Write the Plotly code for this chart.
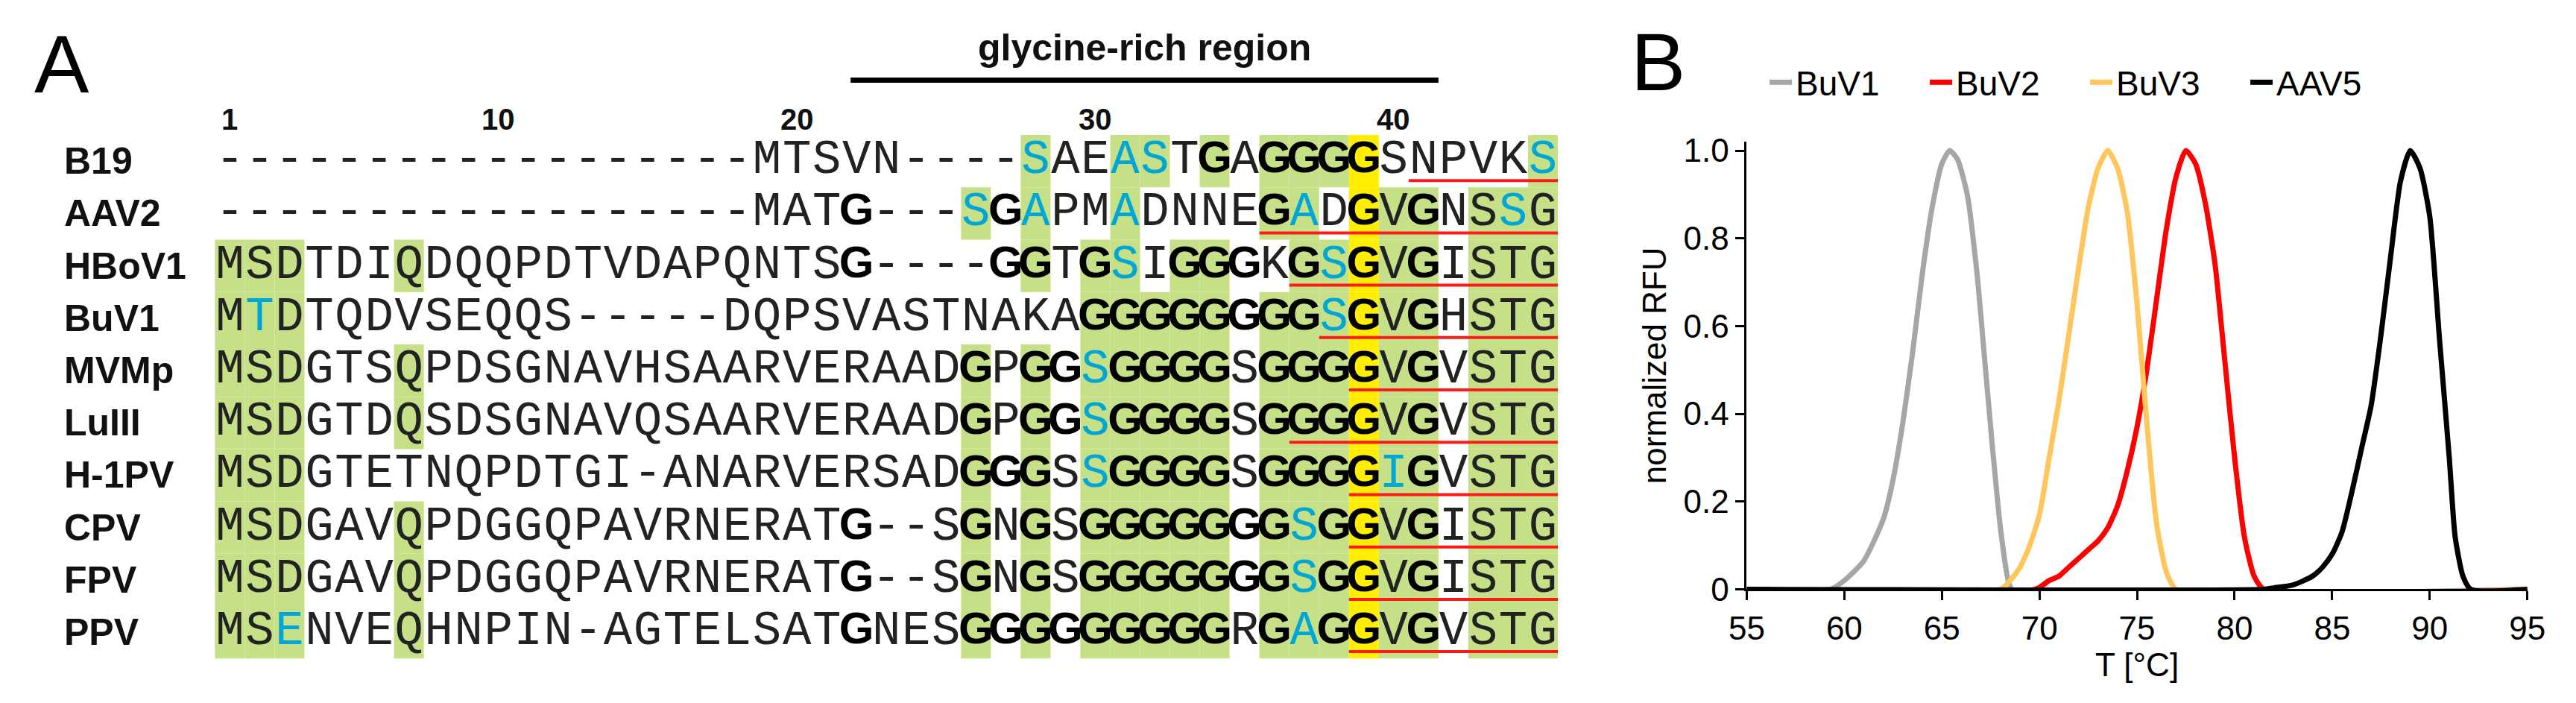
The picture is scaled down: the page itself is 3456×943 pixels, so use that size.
import plotly.graph_objects as go

# ---------------- Panel A data ----------------
names = ["B19", "AAV2", "HBoV1", "BuV1", "MVMp", "LuIII", "H-1PV", "CPV", "FPV", "PPV"]
sequences = [
    "------------------MTSVN----SAEASTGAGGGGSNPVKS",
    "------------------MATG---SGAPMADNNEGADGVGNSSG",
    "MSDTDIQDQQPDTVDAPQNTSG----GGTGSIGGGKGSGVGISTG",
    "MTDTQDVSEQQS-----DQPSVASTNAKAGGGGGGGGSGVGHSTG",
    "MSDGTSQPDSGNAVHSAARVERAADGPGGSGGGGSGGGGVGVSTG",
    "MSDGTDQSDSGNAVQSAARVERAADGPGGSGGGGSGGGGVGVSTG",
    "MSDGTETNQPDTGI-ANARVERSADGGGSSGGGGSGGGGIGVSTG",
    "MSDGAVQPDGGQPAVRNERATG--SGNGSGGGGGGGSGGVGISTG",
    "MSDGAVQPDGGQPAVRNERATG--SGNGSGGGGGGGSGGVGISTG",
    "MSENVEQHNPIN-AGTELSATGNESGGGGGGGGGRGAGGVGVSTG",
]
# g = green box, y = yellow box, . = none
highlights = [
    "..........................." + "g..gg.g.gggy.....g",
    "........................." + "g.g..g....gg.ygg.ggg",
    "ggg...g.................." + "..g.gg.gg..ggygg.ggg",
    "ggg......................" + "....ggggg.gggygg.ggg",
    "ggg...g.................." + "g.g.ggggg.gggygg.ggg",
    "ggg...g.................." + "g.g.ggggg.gggygg.ggg",
    "ggg......................" + "g.g.ggggg.gggygg.ggg",
    "ggg...g.................." + "g.g.ggggg.gggygg.ggg",
    "ggg...g.................." + "g.g.ggggg.gggygg.ggg",
    "ggg...g.................." + "g.g.ggggg.gggygg.ggg",
]
cyan_cells = [(0, 28), (0, 31), (0, 32), (0, 45),
              (1, 26), (1, 28), (1, 31), (1, 37), (1, 44),
              (2, 31), (2, 38), (3, 2), (3, 38), (4, 30), (5, 30),
              (6, 30), (6, 40), (7, 37), (8, 37), (9, 3), (9, 37)]
underline_start = [41, 36, 37, 38, 39, 37, 39, 39, 39, 39]
underline_end = 45
bold_range = (22, 41)
position_labels = [1, 10, 20, 30, 40]
region_label = "glycine-rich region"
region_span = (22.3, 42.0)

# ---------------- Panel B data ----------------
T_buv1 = [55, 59.3, 60, 61, 62, 62.5, 63, 63.5, 64, 64.5, 65, 65.4, 65.8, 66.3, 66.8, 67.2, 67.6, 68, 68.4, 68.6, 95]
R_buv1 = [0, 0, 0.02, 0.065, 0.16, 0.25, 0.38, 0.54, 0.72, 0.87, 0.97, 1.0, 0.98, 0.9, 0.72, 0.52, 0.32, 0.14, 0.02, 0, 0]
T_buv2 = [55, 69.8, 70.5, 71, 71.5, 72, 72.5, 73, 73.5, 74, 74.5, 75, 75.5, 76, 76.5, 77, 77.5, 78, 78.5, 79, 79.5, 80, 80.5, 81, 81.5, 95]
R_buv2 = [0, 0, 0.02, 0.03, 0.05, 0.07, 0.09, 0.11, 0.14, 0.19, 0.27, 0.37, 0.5, 0.66, 0.82, 0.94, 1.0, 0.97, 0.88, 0.74, 0.52, 0.3, 0.12, 0.03, 0, 0]
T_buv3 = [55, 68, 68.5, 69, 69.5, 70, 70.5, 71, 71.5, 72, 72.5, 73, 73.5, 74, 74.5, 75, 75.5, 76, 76.5, 77, 95]
R_buv3 = [0, 0, 0.02, 0.05, 0.1, 0.17, 0.3, 0.43, 0.58, 0.73, 0.87, 0.96, 1.0, 0.96, 0.86, 0.65, 0.38, 0.15, 0.04, 0, 0]
T_aav5 = [55, 81.5, 82, 83, 84, 84.5, 85, 85.5, 86, 86.5, 87, 87.5, 88, 88.5, 89, 89.5, 90, 90.5, 91, 91.3, 91.7, 92.1, 95]
R_aav5 = [0, 0, 0.003, 0.01, 0.03, 0.05, 0.08, 0.13, 0.22, 0.32, 0.42, 0.58, 0.76, 0.93, 1.0, 0.96, 0.85, 0.57, 0.3, 0.12, 0.03, 0, 0]
curve_names = ["BuV1", "BuV2", "BuV3", "AAV5"]
curve_colors = ["#a6a6a6", "#ff0000", "#ffc65c", "#000000"]
x_ticks = [55, 60, 65, 70, 75, 80, 85, 90, 95]
y_ticks = [0, 0.2, 0.4, 0.6, 0.8, 1.0]
y_ticktext = ["0", "0.2", "0.4", "0.6", "0.8", "1.0"]

# ---------------- layout geometry ----------------
W, H = 3456, 943
COL0, CW = 260.0, 40.6
ROW0, RH = 204.0, 73.0
GREEN, YELLOW, CYAN, RED = "#c5e086", "#ffee00", "#00a6d6", "#ff1a1a"

def cx(c):
    return COL0 + (c - 0.5) * CW

def ry(r):
    return ROW0 + r * RH

fig = go.Figure()
shapes = []
for r, mask in enumerate(highlights):
    for c, m in enumerate(mask, start=1):
        if m in "gy":
            shapes.append(dict(type="rect", xref="x", yref="y", layer="below",
                               x0=COL0 + (c - 1) * CW, x1=COL0 + c * CW,
                               y0=ry(r) - RH / 2, y1=ry(r) + RH / 2,
                               fillcolor=GREEN if m == "g" else YELLOW, line_width=0))
for r, s in enumerate(underline_start):
    shapes.append(dict(type="line", xref="x", yref="y",
                       x0=COL0 + (s - 1) * CW, x1=COL0 + underline_end * CW,
                       y0=ry(r) + 27, y1=ry(r) + 27, line=dict(color=RED, width=4)))
shapes.append(dict(type="line", xref="x", yref="y",
                   x0=cx(region_span[0]) - CW / 2, x1=cx(region_span[1]) - CW / 2,
                   y0=91, y1=91, line=dict(color="black", width=7)))

groups = {"reg": ([], [], []), "cyan": ([], [], []), "bold": ([], [], [])}
cyan_set = set(cyan_cells)
for r, seq in enumerate(sequences):
    for c, ch in enumerate(seq, start=1):
        if (r, c) in cyan_set:
            g = "cyan"
        elif ch == "G" and bold_range[0] <= c <= bold_range[1]:
            g = "bold"
        else:
            g = "reg"
        groups[g][0].append(cx(c))
        groups[g][1].append(ry(r))
        groups[g][2].append(ch)

fig.add_trace(go.Scatter(x=groups["reg"][0], y=groups["reg"][1], text=groups["reg"][2], mode="text",
                         textfont=dict(family="Liberation Mono", size=64, color="#222222"),
                         showlegend=False, hoverinfo="skip", xaxis="x", yaxis="y"))
fig.add_trace(go.Scatter(x=groups["cyan"][0], y=groups["cyan"][1], text=groups["cyan"][2], mode="text",
                         textfont=dict(family="Liberation Mono", size=64, color=CYAN),
                         showlegend=False, hoverinfo="skip", xaxis="x", yaxis="y"))
fig.add_trace(go.Scatter(x=groups["bold"][0], y=groups["bold"][1], text=groups["bold"][2], mode="text",
                         textfont=dict(family="Liberation Sans", size=60, color="black", weight="bold"),
                         showlegend=False, hoverinfo="skip", xaxis="x", yaxis="y"))

annotations = []
for r, n in enumerate(names):
    annotations.append(dict(x=53, y=ry(r), xref="x", yref="y", text=f"<b>{n}</b>", showarrow=False,
                            xanchor="left", yanchor="middle",
                            font=dict(family="Liberation Sans", size=50, color="#111")))
for p in position_labels:
    annotations.append(dict(x=cx(p), y=146, xref="x", yref="y", text=f"<b>{p}</b>", showarrow=False,
                            xanchor="center", yanchor="middle",
                            font=dict(family="Liberation Sans", size=40, color="#111")))
annotations.append(dict(x=(cx(region_span[0]) + cx(region_span[1])) / 2 - CW / 2, y=46, xref="x", yref="y",
                        text=f"<b>{region_label}</b>", showarrow=False, xanchor="center", yanchor="middle",
                        font=dict(family="Liberation Sans", size=50, color="#111")))
annotations.append(dict(x=52, y=68, xref="x", yref="y", text="A", showarrow=False,
                        xanchor="center", yanchor="middle",
                        font=dict(family="Liberation Sans", size=110, color="black")))
annotations.append(dict(x=2223, y=65, xref="x", yref="y", text="B", showarrow=False,
                        xanchor="center", yanchor="middle",
                        font=dict(family="Liberation Sans", size=110, color="black")))

# ---------------- Panel B ----------------
for name, col, T, R in zip(curve_names, curve_colors,
                           [T_buv1, T_buv2, T_buv3, T_aav5], [R_buv1, R_buv2, R_buv3, R_aav5]):
    fig.add_trace(go.Scatter(x=T, y=R, mode="lines", name=name,
                             line=dict(color=col, width=7, shape="spline", smoothing=0.6),
                             xaxis="x2", yaxis="y2", cliponaxis=True))

axis_font = dict(family="Liberation Sans", size=44, color="black")
fig.update_layout(
    width=W, height=H, margin=dict(l=0, r=0, t=0, b=0),
    paper_bgcolor="white", plot_bgcolor="rgba(0,0,0,0)",
    shapes=shapes, annotations=annotations,
    xaxis=dict(domain=[0, 1], range=[0, W], visible=False, fixedrange=True),
    yaxis=dict(domain=[0, 1], range=[H, 0], visible=False, fixedrange=True),
    xaxis2=dict(domain=[2344 / W, 3406 / W], range=[55, 95], anchor="y2",
                tickvals=x_ticks, ticks="outside", ticklen=12, tickwidth=3, tickcolor="black",
                showline=True, linecolor="black", linewidth=3, showgrid=False, zeroline=False,
                tickfont=axis_font, title=dict(text="T [°C]", font=axis_font, standoff=2)),
    yaxis2=dict(domain=[(H - 801) / H, (H - 177) / H], range=[0, 1.02], anchor="x2",
                tickvals=y_ticks, ticktext=y_ticktext, ticks="outside", ticklen=12, tickwidth=3,
                tickcolor="black", showline=True, linecolor="black", linewidth=3, showgrid=False,
                zeroline=False, tickfont=axis_font,
                title=dict(text="normalized RFU", font=axis_font, standoff=10)),
    legend=dict(orientation="h", x=2370 / W, y=1 - 94 / H, xanchor="left", yanchor="middle",
                font=dict(family="Liberation Sans", size=46, color="black"),
                entrywidth=170, entrywidthmode="pixels", bgcolor="rgba(0,0,0,0)"),
)
fig.write_html("out.html")
